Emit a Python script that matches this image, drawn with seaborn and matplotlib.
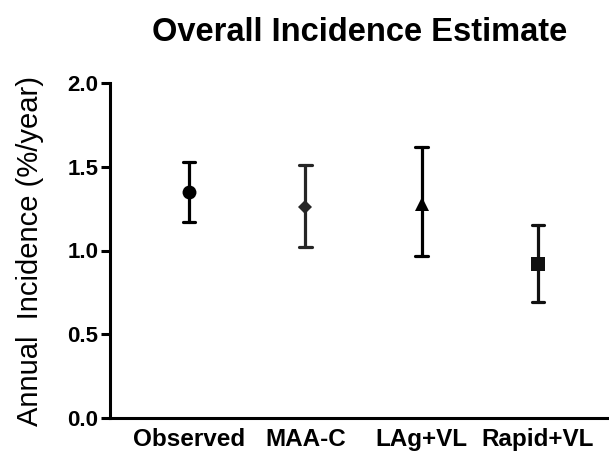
import pandas as pd
import matplotlib
matplotlib.use('Agg')
import matplotlib.pyplot as plt
import seaborn as sns

groups = ['Observed', 'MAA-C', 'LAg+VL', 'Rapid+VL']
estimate = [1.35, 1.26, 1.28, 0.92]
lower = [1.17, 1.02, 0.97, 0.69]
upper = [1.53, 1.51, 1.62, 1.15]
markers = ['o', 'D', '^', 's']
colors = ['#000000', '#262626', '#000000', '#111111']

# long table: lower / estimate / upper per group, median -> estimate, min/max -> bars
rows = []
for g, lo, est, hi in zip(groups, lower, estimate, upper):
    for v in (lo, est, hi):
        rows.append({'group': g, 'value': v})
df = pd.DataFrame(rows)

sns.set_style('ticks')
plt.rcParams['font.family'] = ['Liberation Sans', 'DejaVu Sans']
plt.rcParams['text.color'] = 'black'
plt.rcParams['axes.labelcolor'] = 'black'
plt.rcParams['xtick.color'] = 'black'
plt.rcParams['ytick.color'] = 'black'

fig = plt.figure(figsize=(6.09, 4.59), dpi=100)
ax = fig.add_axes([110 / 609, 41 / 459, 499 / 609, 335 / 459])

sns.pointplot(data=df, x='group', y='value', hue='group', order=groups,
              hue_order=groups, palette=colors, markers=markers,
              linestyles='none', estimator='median',
              errorbar=lambda v: (v.min(), v.max()),
              capsize=0.11, err_kws={'linewidth': 2.3},
              markersize=10, markeredgewidth=0, legend=False, ax=ax)

for ln in ax.lines:
    if ln.get_marker() == 'D':
        ln.set_markersize(6.8)

ax.set_xlim(-0.68, 3.61)
ax.set_ylim(0, 2.0)
ax.set_yticks([0.0, 0.5, 1.0, 1.5, 2.0])
ax.set_yticklabels(['0.0', '0.5', '1.0', '1.5', '2.0'])

sns.despine(ax=ax)
for s in ['left', 'bottom']:
    ax.spines[s].set_linewidth(2.2)
    ax.spines[s].set_color('black')

ax.tick_params(axis='y', length=6.5, width=2.2, pad=2, labelsize=16)
ax.tick_params(axis='x', length=0, pad=7, labelsize=17.5)
for lab in ax.get_xticklabels() + ax.get_yticklabels():
    lab.set_fontweight('bold')

ax.set_xlabel('')
ax.set_ylabel('Annual  Incidence (%/year)', fontsize=21, labelpad=17)
ax.set_title('Overall Incidence Estimate', fontsize=23.5, fontweight='bold', pad=30)

fig.savefig('out.png', dpi=100)
